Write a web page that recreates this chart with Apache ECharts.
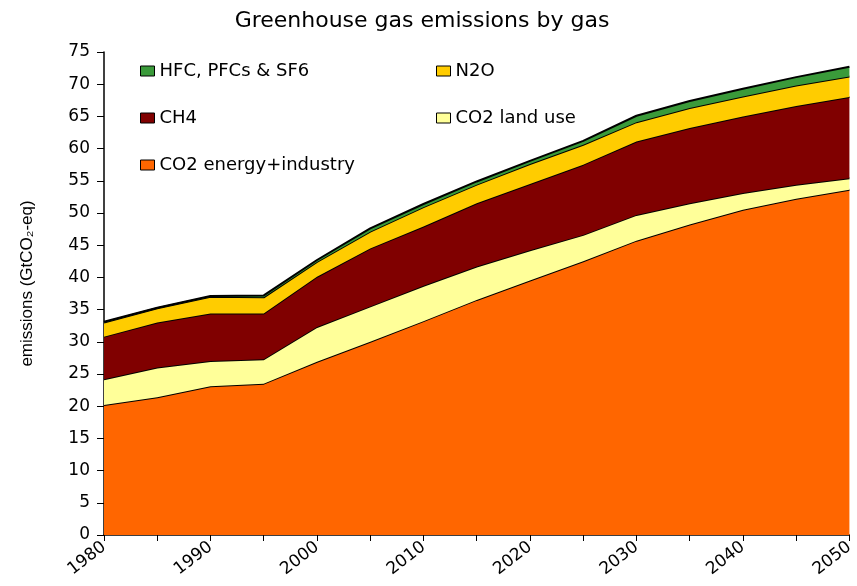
<!DOCTYPE html>
<html>
<head>
<meta charset="utf-8">
<script src="https://cdn.jsdelivr.net/npm/echarts@6/dist/echarts.min.js"></script>
<style>
  html, body { margin: 0; padding: 0; background: #fff; }
  #chart { width: 857px; height: 586px; }
</style>
</head>
<body>
<div id="chart"></div>
<script>
// ---- data (GtCO2-eq) ----
const years = ['1980','1985','1990','1995','2000','2005','2010','2015','2020','2025','2030','2035','2040','2045','2050'];
const co2Energy = [20.2, 21.4, 23.1, 23.5, 26.9, 30.0, 33.2, 36.5, 39.5, 42.5, 45.7, 48.2, 50.5, 52.2, 53.6];
const co2Land   = [4.0, 4.6, 3.9, 3.8, 5.4, 5.5, 5.5, 5.2, 4.7, 4.1, 4.0, 3.3, 2.6, 2.2, 1.8];
const ch4       = [6.6, 7.0, 7.4, 7.1, 7.8, 9.0, 9.2, 9.8, 10.3, 10.9, 11.4, 11.7, 11.9, 12.2, 12.6];
const n2o       = [2.2, 2.2, 2.6, 2.5, 2.3, 2.6, 3.0, 2.9, 3.1, 3.1, 3.0, 3.1, 3.1, 3.2, 3.2];
const hfc       = [0.1, 0.1, 0.1, 0.3, 0.3, 0.5, 0.5, 0.5, 0.5, 0.6, 1.0, 1.1, 1.2, 1.3, 1.5];
const seriesNames = ['CO2 energy+industry', 'CO2 land use', 'CH4', 'N2O', 'HFC, PFCs & SF6'];
const seriesColors = ['#FF6600', '#FFFF99', '#800000', '#FFCC00', '#3A9A3A'];
const seriesData = [co2Energy, co2Land, ch4, n2o, hfc];
const yTicks = { min: 0, max: 75, interval: 5 };

const FONT = 'DejaVu Sans';
const chart = echarts.init(document.getElementById('chart'));

const series = seriesNames.map((name, i) => ({
  name: name,
  type: 'line',
  stack: 'total',
  data: seriesData[i],
  color: seriesColors[i],
  showSymbol: false,
  symbol: 'none',
  smooth: false,
  lineStyle: { color: '#000', width: 2 },
  areaStyle: { color: seriesColors[i], opacity: 1 },
  itemStyle: { color: seriesColors[i] },
  emphasis: { disabled: true },
  z: 2 + i
}));

const legendCommon = {
  orient: 'vertical',
  icon: 'rect',
  itemWidth: 14,
  itemHeight: 10,
  itemGap: 27,
  itemStyle: { borderColor: '#000', borderWidth: 1 },
  textStyle: { fontFamily: FONT, fontSize: 18, color: '#000', lineHeight: 20 },
  selectedMode: false
};

chart.setOption({
  backgroundColor: '#fff',
  animation: false,
  title: {
    text: 'Greenhouse gas emissions by gas',
    left: 417,
    textAlign: 'center',
    top: 5,
    textStyle: { fontFamily: FONT, fontSize: 22, fontWeight: 'normal', color: '#000' }
  },
  legend: [
    Object.assign({}, legendCommon, {
      left: 135, top: 56,
      data: ['HFC, PFCs & SF6', 'CH4', 'CO2 energy+industry']
    }),
    Object.assign({}, legendCommon, {
      left: 431, top: 56,
      data: ['N2O', 'CO2 land use']
    })
  ],
  grid: { left: 104, right: 6, top: 52, bottom: 51, containLabel: false },
  xAxis: {
    type: 'category',
    data: years,
    boundaryGap: false,
    axisLine: { show: true, lineStyle: { color: '#000', width: 1.5 } },
    axisTick: { show: true, interval: 0, length: 6, lineStyle: { color: '#000' } },
    axisLabel: {
      interval: 1, rotate: 38, margin: 10,
      fontFamily: FONT, fontSize: 17, color: '#000'
    },
    splitLine: { show: false }
  },
  yAxis: {
    type: 'value',
    min: yTicks.min, max: yTicks.max, interval: yTicks.interval,
    name: 'emissions (GtCO₂-eq)',
    nameLocation: 'middle',
    nameRotate: 90,
    nameGap: 68,
    nameTextStyle: { fontFamily: 'Liberation Sans', fontSize: 17, color: '#000', padding: [0, 0, 0, 20] },
    axisLine: { show: true, lineStyle: { color: '#000', width: 1.5 } },
    axisTick: { show: true, inside: false, length: 7, lineStyle: { color: '#000' } },
    axisLabel: { margin: 14, fontFamily: FONT, fontSize: 17, color: '#000' },
    splitLine: { show: false }
  },
  series: series
});
</script>
</body>
</html>
